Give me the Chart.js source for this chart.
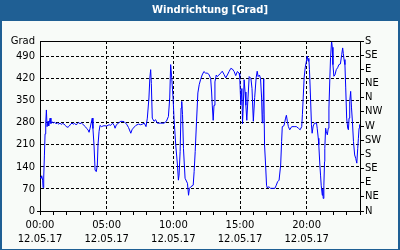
<!DOCTYPE html>
<html><head><meta charset="utf-8">
<script src="https://cdn.jsdelivr.net/npm/chart.js@4/dist/chart.umd.min.js"></script>
<style>html,body{margin:0;padding:0;background:#fff;}#wrap{width:400px;height:250px;position:relative;}</style>
</head><body><div id="wrap"><canvas id="c" width="400" height="250"></canvas></div>
<script>
const chartTitle = 'Windrichtung [Grad]';
const dateLabel = '12.05.17';
const hours = [0.00,0.07,0.13,0.20,0.23,0.28,0.33,0.38,0.43,0.48,0.53,0.60,0.65,0.70,0.76,0.82,0.90,1.00,1.10,1.20,1.30,1.40,1.50,1.60,1.70,1.80,1.90,2.00,2.10,2.20,2.30,2.40,2.50,2.60,2.70,2.80,2.90,3.00,3.10,3.20,3.30,3.40,3.50,3.60,3.68,3.75,3.85,3.92,3.97,4.05,4.13,4.22,4.30,4.35,4.43,4.50,4.60,4.80,5.00,5.18,5.30,5.38,5.45,5.56,5.63,5.73,5.88,6.06,6.30,6.49,6.64,6.81,6.90,6.99,7.19,7.39,7.55,7.69,7.82,7.95,8.05,8.17,8.24,8.30,8.35,8.42,8.55,8.67,8.80,9.05,9.30,9.48,9.63,9.73,9.80,9.88,9.98,10.05,10.18,10.31,10.38,10.43,10.51,10.58,10.63,10.69,10.76,10.88,11.06,11.14,11.21,11.31,11.49,11.56,11.64,11.74,11.84,11.94,12.04,12.16,12.29,12.42,12.54,12.67,12.80,12.87,12.92,12.99,13.05,13.12,13.22,13.30,13.42,13.55,13.67,13.80,13.93,14.05,14.18,14.31,14.43,14.56,14.68,14.80,14.93,14.98,15.06,15.14,15.19,15.26,15.31,15.38,15.44,15.51,15.59,15.69,15.82,15.90,16.00,16.10,16.21,16.29,16.36,16.46,16.54,16.62,16.67,16.72,16.78,16.84,16.92,16.99,17.04,17.17,17.29,17.47,17.62,17.72,17.82,17.93,18.05,18.12,18.17,18.30,18.42,18.48,18.55,18.63,18.73,18.88,19.06,19.23,19.38,19.51,19.63,19.68,19.74,19.81,19.89,19.96,20.04,20.11,20.16,20.21,20.29,20.36,20.41,20.49,20.59,20.74,20.79,20.87,20.91,20.99,21.04,21.09,21.17,21.21,21.24,21.29,21.34,21.36,21.42,21.47,21.55,21.62,21.67,21.74,21.79,21.87,21.92,21.97,22.04,22.12,22.22,22.32,22.42,22.53,22.63,22.70,22.75,22.80,22.87,22.93,23.00,23.08,23.13,23.18,23.23,23.30,23.36,23.43,23.51,23.60,23.68,23.76,23.83,23.88,23.93,23.97];
const directionDeg = [108,104,112,98,74,108,175,245,280,321,268,285,270,282,295,278,283,280,282,277,280,276,279,275,278,276,272,267,266,270,276,279,276,278,274,277,281,277,280,276,272,268,262,258,250,262,282,295,262,210,130,125,146,210,253,272,268,271,270,274,272,276,279,272,263,274,279,285,284,276,265,247,258,263,272,276,274,276,279,268,295,359,423,449,405,295,285,290,279,279,279,285,300,359,465,423,359,295,210,146,98,114,189,327,348,306,199,104,88,50,72,77,82,125,189,285,375,401,417,432,443,438,438,434,421,378,336,288,336,410,432,427,432,438,444,434,423,432,443,453,451,443,430,443,438,427,336,389,277,352,417,378,336,288,352,427,421,389,285,360,423,444,427,432,421,359,280,306,420,210,146,82,74,77,72,72,72,82,93,98,146,220,268,271,295,304,285,268,258,268,268,268,263,258,268,306,359,423,455,471,492,476,485,449,359,274,247,270,279,279,263,231,210,146,114,82,50,70,40,82,157,199,263,253,242,263,327,423,487,540,520,465,428,432,449,455,465,467,497,518,500,481,465,391,295,263,258,295,348,380,330,285,221,178,167,152,199,231,263,275];
const leftTicks = [0,70,140,210,280,350,420,490,540];
const leftTickLabels = ['0','70','140','210','280','350','420','490','Grad'];
const compassTicks = [0,45,90,135,180,225,270,315,360,405,450,495,540];
const compassLabels = ['N','NE','E','SE','S','SW','W','NW','N','NE','E','SE','S'];
const hourTicks = [0,1,2,3,4,5,6,7,8,9,10,11,12,13,14,15,16,17,18,19,20,21,22,23,24];
const labeledHours = [0,5,10,15,20];

const FONT = {family:'DejaVu Sans', size:10, lineHeight:1.4};
const CLEAR = 'rgba(0,0,0,0)';

const framePlugin = {
  id:'frame',
  beforeDraw(chart){
    const ctx = chart.ctx;
    ctx.save();
    ctx.fillStyle = '#1f5f94';
    ctx.fillRect(0,0,400,250);
    ctx.fillStyle = '#f8fbf8';
    ctx.fillRect(2,21,396,228);
    ctx.fillStyle = '#ffffff';
    ctx.font = 'bold 10px "DejaVu Sans"';
    ctx.textAlign = 'center';
    ctx.textBaseline = 'middle';
    ctx.fillText(chartTitle, 210, 10.5);
    ctx.restore();
  },
  afterDraw(chart){
    const a = chart.chartArea, ctx = chart.ctx;
    ctx.save();
    ctx.strokeStyle = '#000';
    ctx.lineWidth = 1;
    ctx.beginPath();
    ctx.moveTo(a.left, Math.floor(a.top)+0.5);
    ctx.lineTo(a.right+1, Math.floor(a.top)+0.5);
    ctx.stroke();
    ctx.restore();
  }
};

new Chart(document.getElementById('c'), {
  type:'line',
  data:{datasets:[{
    data: hours.map((h,i)=>({x:h, y:directionDeg[i]})),
    borderColor:'#0000ff', borderWidth:1, pointRadius:0, tension:0, fill:false,
    xAxisID:'x', yAxisID:'y'
  }]},
  options:{
    responsive:false, animation:false, devicePixelRatio:1,
    layout:{padding:{top:41,left:0,right:0,bottom:0}},
    plugins:{legend:{display:false}, title:{display:false}, tooltip:{enabled:false}},
    scales:{
      x:{
        type:'linear', position:'bottom', min:0, max:24,
        afterBuildTicks:s=>{s.ticks = hourTicks.map(v=>({value:v}));},
        afterFit:s=>{s.height = 39;},
        ticks:{autoSkip:false, maxRotation:0, minRotation:0, padding:3, color:'#000', font:FONT,
          callback:(v)=> labeledHours.includes(v) ? [String(v).padStart(2,'0')+':00', dateLabel] : ''},
        grid:{color:c=> (c.tick && labeledHours.includes(c.tick.value) && c.tick.value>0) ? '#000' : CLEAR,
          tickColor:'#000', tickLength:4, lineWidth:1},
        border:{display:true, color:'#000', width:1, dash:[3,2]}
      },
      y:{
        type:'linear', position:'left', min:0, max:540,
        afterBuildTicks:s=>{s.ticks = leftTicks.map(v=>({value:v}));},
        afterFit:s=>{s.width = 40;},
        ticks:{autoSkip:false, padding:2, color:'#000', font:FONT,
          callback:(v)=> leftTickLabels[leftTicks.indexOf(v)]},
        grid:{color:c=> (c.tick && c.tick.value>0 && c.tick.value<540) ? '#000' : CLEAR,
          tickColor:c=> (c.tick && c.tick.value===0) ? '#000' : CLEAR, tickLength:3, lineWidth:1},
        border:{display:true, color:'#000', width:1, dash:[3,2]}
      },
      y2:{
        type:'linear', position:'right', min:0, max:540,
        afterBuildTicks:s=>{s.ticks = compassTicks.map(v=>({value:v}));},
        afterFit:s=>{s.width = 40;},
        ticks:{autoSkip:false, padding:1, color:'#000', font:FONT,
          callback:(v)=> compassLabels[compassTicks.indexOf(v)]},
        grid:{drawOnChartArea:false, tickColor:'#000', tickLength:4, lineWidth:1},
        border:{display:true, color:'#000', width:1}
      }
    }
  },
  plugins:[framePlugin]
});
</script></body></html>
